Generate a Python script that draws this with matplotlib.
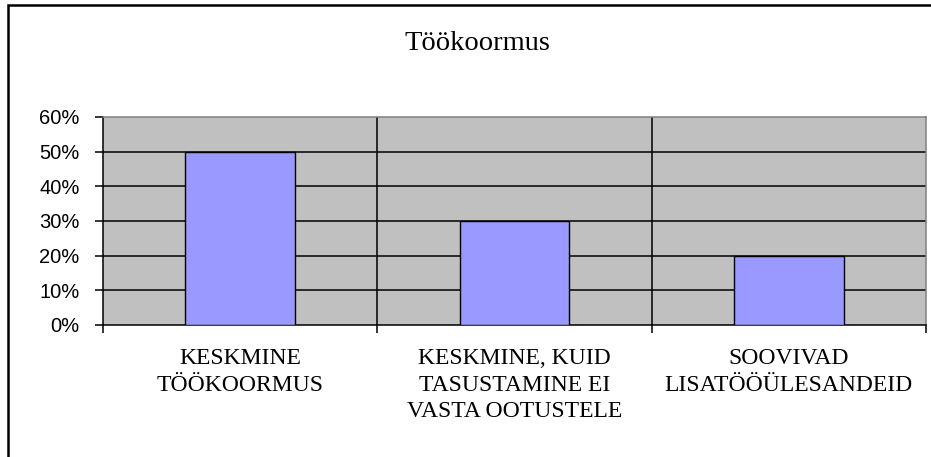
#!/usr/bin/env python3

import matplotlib
matplotlib.use('Agg')
import matplotlib.pyplot as plt
from matplotlib.patches import Rectangle
from matplotlib.ticker import FuncFormatter

import numpy as np

title = 'Töökoormus'
categories = [
    'KESKMINE\nTÖÖKOORMUS',
    'KESKMINE, KUID\nTASUSTAMINE EI\nVASTA OOTUSTELE',
    'SOOVIVAD\nLISATÖÖÜLESANDEID',
]
values = [0.50, 0.30, 0.20]
yticks = [0.0, 0.1, 0.2, 0.3, 0.4, 0.5, 0.6]

W, H = 931, 457


def main():
    fig = plt.figure(figsize=(W / 100, H / 100), dpi=100)
    fig.patch.set_facecolor('white')

    # chart-area frame (right and bottom fall outside the image)
    fig.patches.append(Rectangle((8 / W, -0.1), 1.2, 1 - 5.5 / H + 0.1,
                                 transform=fig.transFigure, fill=False,
                                 edgecolor='black', linewidth=1.8))

    ax = fig.add_axes([103 / W, 1 - 325 / H, (926 - 103) / W, (325 - 117) / H])
    ax.set_facecolor('#C0C0C0')

    x = np.arange(len(categories))
    ax.bar(x, values, width=0.4, color='#9999FF', edgecolor='black',
           linewidth=1.0, zorder=3)

    ax.set_xlim(-0.5, len(categories) - 0.5)
    ax.set_ylim(0, 0.6)

    # horizontal gridlines
    ax.set_yticks(yticks)
    ax.yaxis.set_major_formatter(FuncFormatter(lambda v, p: '{:.0f}%'.format(v * 100)))
    for t in yticks[1:-1]:
        ax.axhline(t, color='black', linewidth=1.1, zorder=2)
    # category separators
    bounds = np.arange(len(categories) + 1) - 0.5
    for b in bounds[1:-1]:
        ax.axvline(b, color='black', linewidth=1.1, zorder=2)

    ax.set_xticks(bounds)
    ax.set_xticklabels([])
    ax.set_xticks(x, minor=True)
    ax.set_xticklabels(categories, minor=True, fontfamily='Liberation Serif',
                       fontsize=17, linespacing=1.35)
    ax.tick_params(axis='x', which='major', length=6, width=1.1, color='black')
    ax.tick_params(axis='x', which='minor', length=0, pad=16.5)
    ax.tick_params(axis='y', length=6, width=1.1, pad=11, labelsize=14.5)
    for lab in ax.get_yticklabels():
        lab.set_fontfamily('Liberation Sans')

    for s in ['left', 'bottom']:
        ax.spines[s].set_color('black')
        ax.spines[s].set_linewidth(1.1)
    for s in ['top', 'right']:
        ax.spines[s].set_color('#808080')
        ax.spines[s].set_linewidth(1.1)

    fig.text(477 / W, 1 - 50 / H, title, ha='center', va='baseline',
             fontfamily='Liberation Serif', fontsize=20.5)

    fig.savefig('out.png', dpi=100)


if __name__ == "__main__":
    main()
